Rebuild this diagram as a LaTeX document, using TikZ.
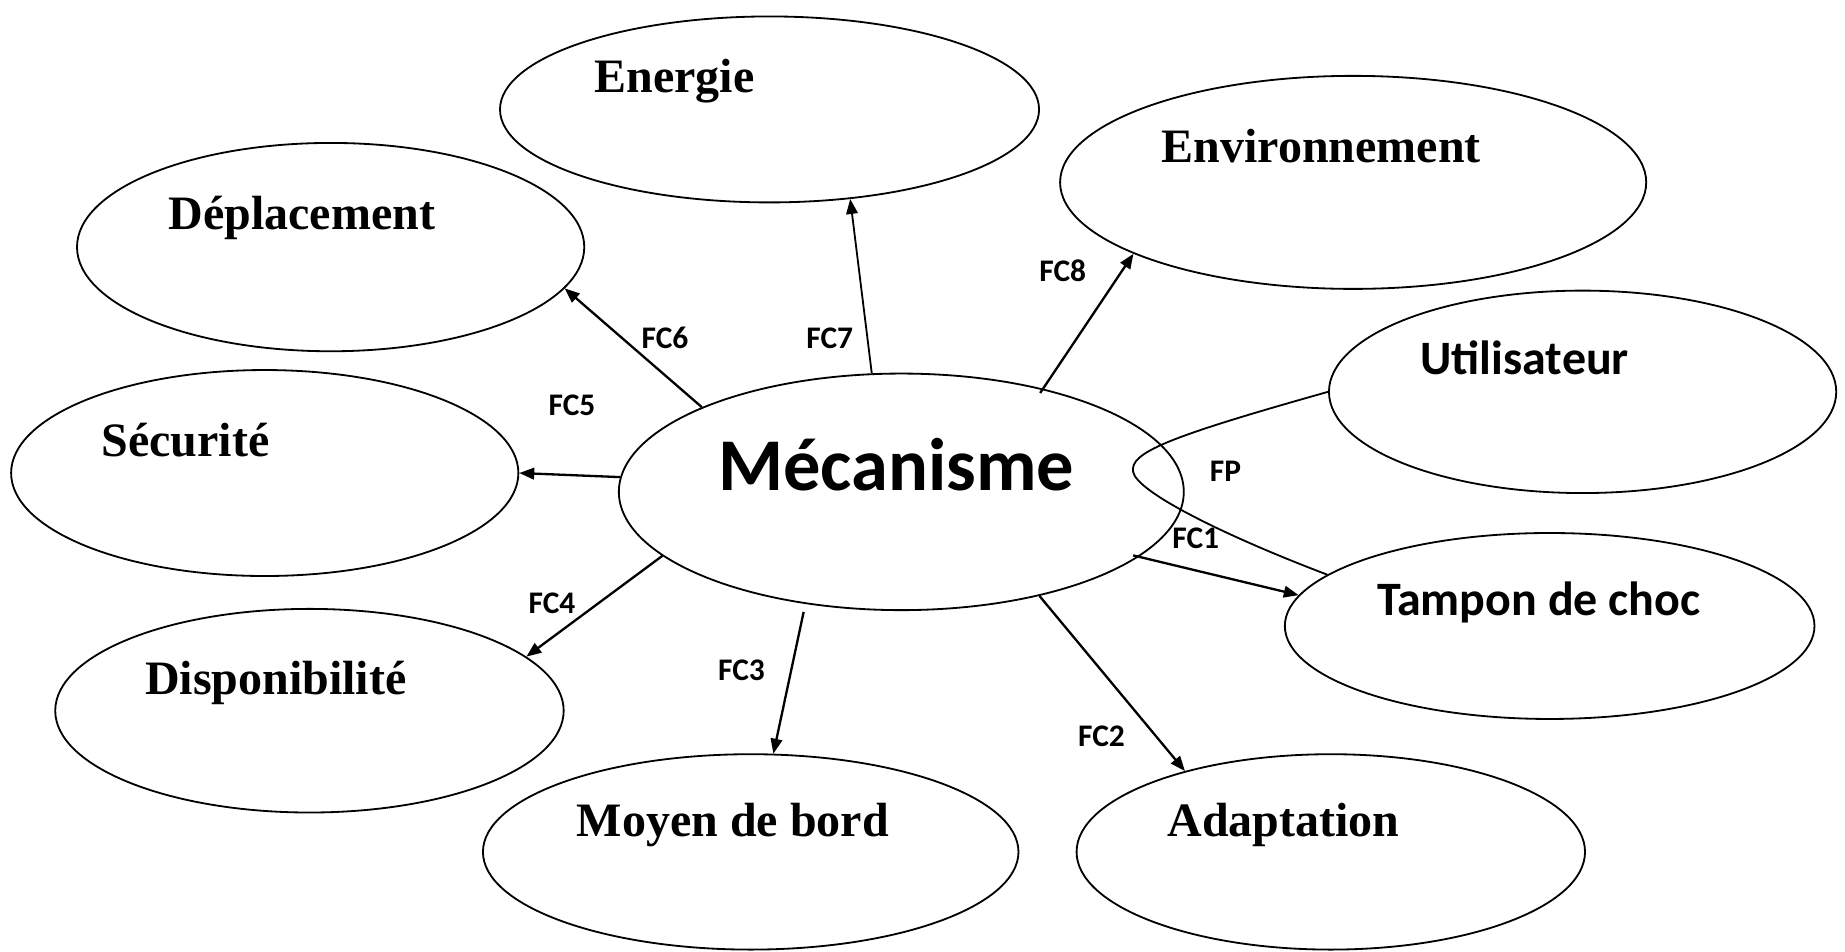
\documentclass[tikz,border=0pt]{standalone}
\usepackage{fontspec}
\setmainfont{Liberation Serif}
\newfontfamily\calibri{Carlito}
\usetikzlibrary{shapes.geometric,arrows.meta,calc}
\begin{document}
\begin{tikzpicture}[x=0.025cm,y=-0.025cm,
  bubble/.style 2 args={draw, ellipse, line width=1.1pt, inner sep=0pt,
    minimum width=#1, minimum height=#2},
  lbl/.style={anchor=base west, inner sep=0pt, font=\fontsize{29}{33}\selectfont\bfseries},
  clbl/.style={anchor=base west, inner sep=0pt, font=\fontsize{29}{33}\selectfont\calibri\bfseries},
  fc/.style={anchor=base west, inner sep=0pt, font=\fontsize{19}{22}\selectfont\calibri\bfseries},
  arr/.style={-{Triangle[length=9pt,width=7pt]}, line width=1.4pt}]

\useasboundingbox[fill=white] (0,0) rectangle (1568,809);

% ellipses
\node[bubble={12cm}{5.025cm}]      (mec)  at (766,418) {};
\node[bubble={11.45cm}{3.95cm}]    (ener) at (654,93) {};
\node[bubble={12.45cm}{4.525cm}]   (env)  at (1150,155) {};
\node[bubble={10.775cm}{4.425cm}]  (dep)  at (281,210) {};
\node[bubble={10.775cm}{4.3cm}]    (util) at (1345,333) {};
\node[bubble={10.775cm}{4.375cm}]  (sec)  at (225,402) {};
\node[bubble={11.25cm}{3.95cm}]    (tamp) at (1317,532) {};
\node[bubble={10.8cm}{4.325cm}]    (disp) at (263,604) {};
\node[bubble={11.375cm}{4.15cm}]   (moy)  at (638,724) {};
\node[bubble={10.8cm}{4.15cm}]     (adap) at (1131,724) {};

% ellipse titles
\node[anchor=base west, inner sep=0pt, font=\fontsize{45}{50}\selectfont\calibri\bfseries]
  (tmec) at (610,417) {Mécanisme};
\node[lbl]  (tener) at (505,79)  {Energie};
\node[lbl]  (tenv)  at (987,138) {Environnement};
\node[lbl]  (tdep)  at (143,195) {Déplacement};
\node[clbl] (tutil) at (1207,318) {Utilisateur};
\node[lbl]  (tsec)  at (86,388)  {Sécurité};
\node[clbl] (ttamp) at (1170,523) {Tampon de choc};
\node[lbl]  (tdisp) at (123,590) {Disponibilité};
\node[lbl]  (tmoy)  at (490,711) {Moyen de bord};
\node[lbl]  (tadap) at (992,711) {Adaptation};

% constraint functions
\draw[arr] (mec.157.5) -- (dep.-10.8);
\draw[line width=1.1pt, -{Triangle[length=9pt,width=7pt]}] (mec.104) -- (ener.-48.1);
\draw[arr] ($(mec.center)+(118,-84)$) -- (env.-162.9);
\draw[arr] (mec.177.4) -- (sec.0);
\draw[arr] (mec.-165.2) -- (disp.14.7);
\draw[arr] ($(mec.center)+(-83,102)$) -- (moy.77.9);
\draw[arr] (mec.-37.3) -- (adap.151.5);
\draw[arr] ($(mec.center)+(197,54)$) -- (tamp.173.6);

% main function loop
\coordinate (fpturn) at (963,401);
\draw[line width=1.1pt] (util.180) .. controls (990,372) and (960,385) .. (fpturn)
  .. controls (966,418) and (1040,455) .. (tamp.167.4);

% function labels
\node[fc] (lfc6) at (545,296) {FC6};
\node[fc] (lfc7) at (685,296) {FC7};
\node[fc] (lfc8) at (883,239) {FC8};
\node[fc] (lfc5) at (466,353) {FC5};
\node[fc] (lfc4) at (449,521) {FC4};
\node[fc] (lfc3) at (610,578) {FC3};
\node[fc] (lfc2) at (916,634) {FC2};
\node[fc] (lfc1) at (996,466) {FC1};
\node[fc] (lfp)  at (1028,409) {FP};
\end{tikzpicture}
\end{document}
